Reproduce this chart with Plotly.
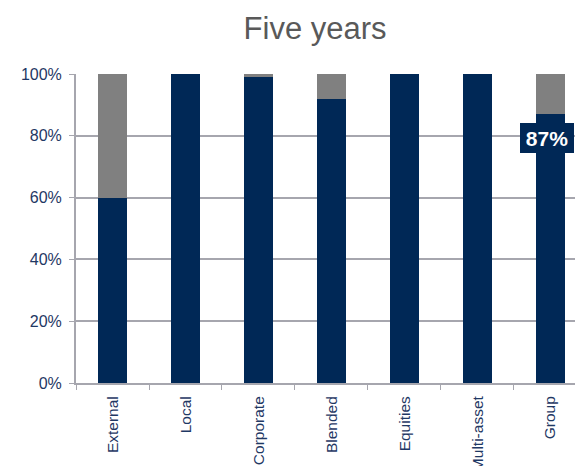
import plotly.graph_objects as go

categories = ["External", "Local", "Corporate", "Blended", "Equities", "Multi-asset", "Group"]
navy_values = [60, 100, 99, 92, 100, 100, 87]
gray_values = [100 - v for v in navy_values]
label_text = "87%"

NAVY = "#002856"
GRAY = "#808080"
TXT = "#1F3864"
FONT = "Liberation Sans, Arial, sans-serif"

fig = go.Figure()
fig.add_trace(go.Bar(x=categories, y=navy_values, marker_color=NAVY, width=0.39,
                     marker_line_width=0, showlegend=False, hoverinfo="skip"))
fig.add_trace(go.Bar(x=categories, y=gray_values, marker_color=GRAY, width=0.39,
                     marker_line_width=0, showlegend=False, hoverinfo="skip"))

fig.add_annotation(x=categories[-1], y=navy_values[-1], xref="x", yref="y",
                   text="<b>" + label_text + "</b>", showarrow=False,
                   yanchor="top", yshift=-9, xshift=-3,
                   width=50, height=26,
                   font=dict(family=FONT, size=21, color="white"),
                   bgcolor=NAVY, bordercolor=NAVY, borderpad=1)

fig.update_layout(
    width=575, height=466,
    margin=dict(l=76, r=0, t=74, b=83),
    barmode="stack",
    bargap=0.61,
    plot_bgcolor="white", paper_bgcolor="white",
    font=dict(family=FONT),
    title=dict(text="Five years", x=0.548, xanchor="center", y=0.94, yanchor="middle",
               font=dict(family=FONT, size=31, color="#595959")),
)
fig.update_xaxes(
    range=[-0.5, 6.336], tickangle=-90, ticks="outside", tickson="boundaries",
    ticklen=5, tickcolor="#A6A6AE", showline=True, linecolor="#A6A6AE", linewidth=2,
    tickfont=dict(family=FONT, size=15.5, color=TXT), showgrid=False,
    ticklabelstandoff=5, automargin=False,
)
fig.update_yaxes(
    range=[0, 100], tickvals=[0, 20, 40, 60, 80, 100], ticktext=["0%", "20%", "40%", "60%", "80%", "100%"],
    ticks="outside", ticklen=5, tickcolor="#A6A6AE", showline=True, linecolor="#A6A6AE", linewidth=2,
    showgrid=True, gridcolor="#A6A6AE", gridwidth=1.5, zeroline=False,
    tickfont=dict(family=FONT, size=16, color=TXT), ticklabelstandoff=4, automargin=False,
)

fig.write_html("out.html")
